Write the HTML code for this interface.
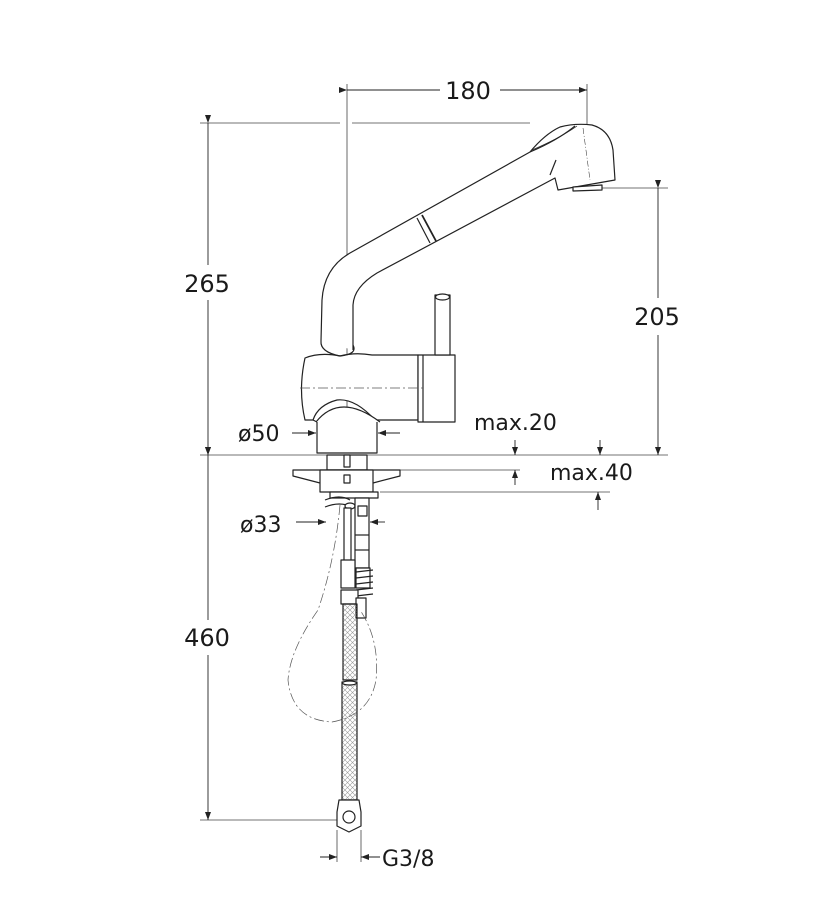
<!DOCTYPE html>
<html><head><meta charset="utf-8"><style>
html,body{margin:0;padding:0;background:#fff}
svg{display:block}
text{font-family:"DejaVu Sans","Liberation Sans",sans-serif;fill:#1a1a1a}
</style></head><body>
<svg width="836" height="913" viewBox="0 0 836 913" xmlns="http://www.w3.org/2000/svg">
<defs>
<marker id="a" markerWidth="8" markerHeight="6" refX="8" refY="3" orient="auto" markerUnits="userSpaceOnUse"><path d="M0,0 L8,3 L0,6 z" fill="#222"/></marker>
<pattern id="mesh" width="5" height="5" patternUnits="userSpaceOnUse"><path d="M0,0 L5,5 M5,0 L0,5" stroke="#999" stroke-width="0.6"/></pattern>
</defs>
<g stroke="#444" stroke-width="0.8" fill="none">
<line x1="200" y1="123" x2="340" y2="123"/><line x1="352" y1="123" x2="530" y2="123"/>
<line x1="200" y1="455" x2="668" y2="455"/>
<line x1="200" y1="820" x2="340" y2="820"/>
<line x1="600" y1="188" x2="668" y2="188"/>
<line x1="347" y1="84" x2="347" y2="450"/>
<line x1="587" y1="84" x2="587" y2="125"/>
<line x1="400" y1="470" x2="520" y2="470"/>
<line x1="380" y1="492" x2="610" y2="492"/>
<line x1="337" y1="830" x2="337" y2="862"/><line x1="361" y1="830" x2="361" y2="862"/>
</g>
<g stroke="#222" stroke-width="0.9" fill="none">
<line x1="347" y1="90" x2="440" y2="90" marker-start="url(#a)"/>
<line x1="500" y1="90" x2="587" y2="90" marker-end="url(#a)"/>
<line x1="208" y1="123" x2="208" y2="265" marker-start="url(#a)"/>
<line x1="208" y1="300" x2="208" y2="455" marker-end="url(#a)"/>
<line x1="208" y1="455" x2="208" y2="620" marker-start="url(#a)"/>
<line x1="208" y1="655" x2="208" y2="820" marker-end="url(#a)"/>
<line x1="658" y1="188" x2="658" y2="298" marker-start="url(#a)"/>
<line x1="658" y1="335" x2="658" y2="455" marker-end="url(#a)"/>
<line x1="515" y1="440" x2="515" y2="455" marker-end="url(#a)"/>
<line x1="600" y1="440" x2="600" y2="455" marker-end="url(#a)"/>
<line x1="515" y1="485" x2="515" y2="470" marker-end="url(#a)"/>
<line x1="598" y1="510" x2="598" y2="492" marker-end="url(#a)"/>
<line x1="292" y1="433" x2="316" y2="433" marker-end="url(#a)"/>
<line x1="400" y1="433" x2="378" y2="433" marker-end="url(#a)"/>
<line x1="296" y1="522" x2="326" y2="522" marker-end="url(#a)"/>
<line x1="385" y1="522" x2="370" y2="522" marker-end="url(#a)"/>
<line x1="320" y1="857" x2="337" y2="857" marker-end="url(#a)"/>
<line x1="380" y1="857" x2="361" y2="857" marker-end="url(#a)"/>
</g>
<g stroke="#222" stroke-width="1.2" fill="#fff" stroke-linejoin="round">
<path d="M321,341 L322,300 Q324,268 350,253 L530,152 Q545,134 560,127 Q575,123 592,125 Q610,130 613,150 L615,180 L558,190 L555,178 L377,273 Q354,287 353,305 L353,350"/>
<path d="M530,152 Q558,140 575,126" fill="none"/>
<path d="M532,150 Q560,138 577,126" fill="none" stroke-width="0.7"/>
<path d="M556,160 L550,175" fill="none"/>
<line x1="583" y1="128" x2="590" y2="180" stroke-width="0.5" stroke-dasharray="6,2,1,2"/>
<path d="M573,187 L602,185 L602,190 L573,191 z"/>
<line x1="417" y1="218" x2="430" y2="243" fill="none"/>
<line x1="422" y1="215" x2="436" y2="241" fill="none" stroke-width="1.8"/>
<path d="M305,358 Q320,352 340,356 Q355,352 372,355 L418,355 L418,420 L375,420 Q355,398 337,400 Q318,405 313,420 L305,420 Q298,390 305,358 z"/>
<path d="M321,341 Q320,352 340,356 Q358,354 353,345" fill="none"/>
<rect x="418" y="355" width="37" height="67"/>
<line x1="423" y1="355" x2="423" y2="422"/>
<rect x="435" y="295" width="15" height="60"/>
<ellipse cx="442.5" cy="297" rx="7" ry="3"/>
<path d="M313,420 L317,422 L317,453 L377,453 L377,422 L375,420"/>
<path d="M316,422 Q340,392 380,422"/>
<rect x="327" y="455" width="40" height="15"/>
<rect x="344" y="455" width="6" height="12"/>
<path d="M293,470 L400,470 L400,476 L373,483 L320,483 L293,476 z"/>
<rect x="320" y="470" width="53" height="22"/>
<rect x="344" y="475" width="6" height="8"/>
<rect x="330" y="492" width="48" height="6"/>
<path d="M325,500 Q340,494 350,500 M325,507 Q340,501 352,507" fill="none"/>
<ellipse cx="350" cy="506" rx="5" ry="3"/>
<rect x="344" y="508" width="7" height="60"/>
<rect x="355" y="498" width="14" height="70"/>
<rect x="358" y="506" width="9" height="10"/>
<line x1="355" y1="535" x2="369" y2="535"/><line x1="355" y1="550" x2="369" y2="550"/>
<rect x="341" y="560" width="14" height="28"/>
<rect x="356" y="568" width="14" height="20"/>
<path d="M356,572 L373,570 M356,578 L373,576 M356,584 L373,582 M356,590 L373,588 M356,596 L373,594" fill="none"/>
<rect x="341" y="590" width="17" height="14"/>
<rect x="356" y="598" width="10" height="20"/>
<rect x="343" y="604" width="14" height="76" fill="url(#mesh)"/>
<rect x="342" y="682" width="15" height="118" fill="url(#mesh)"/>
<ellipse cx="349.5" cy="683" rx="7" ry="2"/>
<path d="M339,800 L359,800 L361,812 L361,826 L349,832 L337,826 L337,812 z"/>
<circle cx="349" cy="817" r="6"/>
</g>
<g stroke="#555" stroke-width="0.7" fill="none" stroke-dasharray="10,3,2,3">
<line x1="300" y1="388" x2="425" y2="388"/>
<path d="M340,505 Q335,560 318,610 Q290,650 288,680 Q292,720 332,722 Q370,715 376,680 Q380,640 360,610"/>
</g>
<g font-size="24">
<text x="468" y="99" text-anchor="middle">180</text>
<text x="207" y="292" text-anchor="middle">265</text>
<text x="207" y="646" text-anchor="middle">460</text>
<text x="657" y="325" text-anchor="middle">205</text>
<text x="474" y="430" font-size="22">max.20</text>
<text x="550" y="480" font-size="22">max.40</text>
<text x="238" y="441" font-size="22">ø50</text>
<text x="240" y="532" font-size="22">ø33</text>
<text x="382" y="866" font-size="22">G3/8</text>
</g>
</svg>
</body></html>
